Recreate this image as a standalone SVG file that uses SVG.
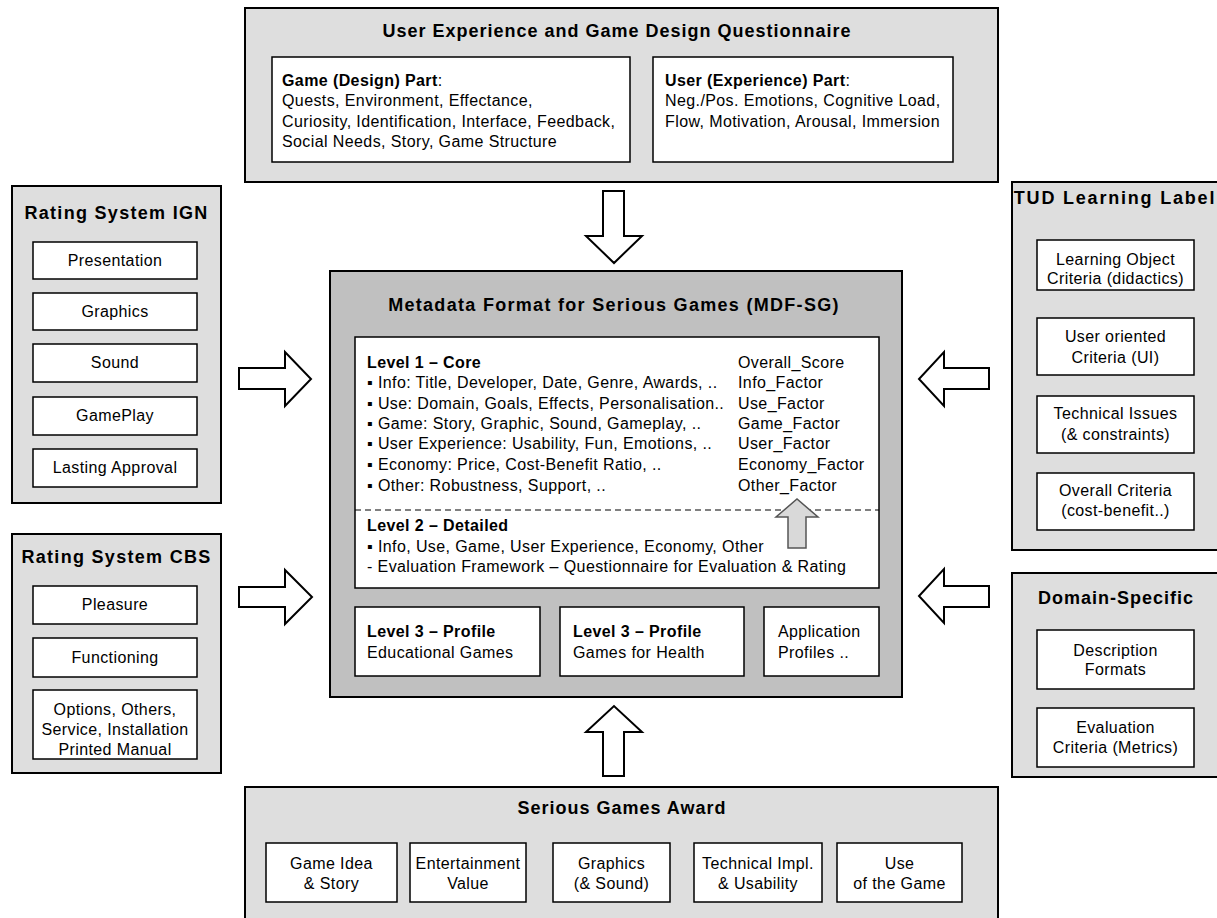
<svg xmlns="http://www.w3.org/2000/svg" width="1217" height="918" viewBox="0 0 1217 918">
<style>
.outer{fill:#dedede;stroke:#000;stroke-width:2}
.mdf{fill:#c0c0c0;stroke:#000;stroke-width:2}
.box{fill:#fff;stroke:#000;stroke-width:1.5}
text{font-family:"Liberation Sans",Arial,sans-serif;font-size:16px;letter-spacing:0.4px;fill:#000}
.ti{font-weight:bold;font-size:18px;letter-spacing:1px}
.b{font-weight:bold}
.c{text-anchor:middle}
.arrow{fill:#fff;stroke:#000;stroke-width:2;stroke-linejoin:miter}
.garrow{fill:#d9d9d9;stroke:#555;stroke-width:1.5}
.dash{stroke:#000;stroke-width:1;stroke-dasharray:6,4;fill:none}
</style>
<rect width="1217" height="918" fill="#fff"/>

<g id="questionnaire">
<rect class="outer" x="245" y="8" width="753" height="174"/>
<text class="ti c" x="617" y="37">User Experience and Game Design Questionnaire</text>
<rect class="box" x="272" y="57" width="358" height="105"/>
<text x="282" y="86"><tspan class="b">Game (Design) Part</tspan>:</text>
<text x="282" y="106">Quests, Environment, Effectance,</text>
<text x="282" y="127">Curiosity, Identification, Interface, Feedback,</text>
<text x="282" y="147">Social Needs, Story, Game Structure</text>
<rect class="box" x="653" y="57" width="300" height="105"/>
<text x="665" y="86"><tspan class="b">User (Experience) Part</tspan>:</text>
<text x="665" y="106">Neg./Pos. Emotions, Cognitive Load,</text>
<text x="665" y="127">Flow, Motivation, Arousal, Immersion</text>
</g>

<g id="ign">
<rect class="outer" x="12" y="186" width="209" height="317"/>
<text class="ti c" x="116.5" y="219" style="letter-spacing:1.3px">Rating System IGN</text>
<rect class="box" x="33" y="242" width="164" height="37"/>
<text class="c" x="115" y="266">Presentation</text>
<rect class="box" x="33" y="293" width="164" height="37"/>
<text class="c" x="115" y="317">Graphics</text>
<rect class="box" x="33" y="344" width="164" height="38"/>
<text class="c" x="115" y="368">Sound</text>
<rect class="box" x="33" y="397" width="164" height="38"/>
<text class="c" x="115" y="421">GamePlay</text>
<rect class="box" x="33" y="449" width="164" height="38"/>
<text class="c" x="115" y="473">Lasting Approval</text>
</g>

<g id="cbs">
<rect class="outer" x="12" y="534" width="209" height="239"/>
<text class="ti c" x="116.5" y="563" style="letter-spacing:1.3px">Rating System CBS</text>
<rect class="box" x="33" y="586" width="164" height="38"/>
<text class="c" x="115" y="610">Pleasure</text>
<rect class="box" x="33" y="638" width="164" height="39"/>
<text class="c" x="115" y="663">Functioning</text>
<rect class="box" x="33" y="690" width="164" height="69"/>
<text class="c" x="115" y="715">Options, Others,</text>
<text class="c" x="115" y="735">Service, Installation</text>
<text class="c" x="115" y="755">Printed Manual</text>
</g>

<g id="tud">
<rect class="outer" x="1012" y="182" width="220" height="368"/>
<text class="ti c" x="1115" y="204" style="letter-spacing:1.8px">TUD Learning Label</text>
<rect class="box" x="1037" y="240" width="157" height="50"/>
<text class="c" x="1115.5" y="265">Learning Object</text>
<text class="c" x="1115.5" y="284">Criteria (didactics)</text>
<rect class="box" x="1037" y="318" width="157" height="57"/>
<text class="c" x="1115.5" y="342">User oriented</text>
<text class="c" x="1115.5" y="363">Criteria (UI)</text>
<rect class="box" x="1037" y="396" width="157" height="57"/>
<text class="c" x="1115.5" y="419">Technical Issues</text>
<text class="c" x="1115.5" y="440">(&amp; constraints)</text>
<rect class="box" x="1037" y="473" width="157" height="57"/>
<text class="c" x="1115.5" y="496">Overall Criteria</text>
<text class="c" x="1115.5" y="516">(cost-benefit..)</text>
</g>

<g id="domain">
<rect class="outer" x="1012" y="573" width="220" height="204"/>
<text class="ti c" x="1116" y="604">Domain-Specific</text>
<rect class="box" x="1037" y="630" width="157" height="59"/>
<text class="c" x="1115.5" y="656">Description</text>
<text class="c" x="1115.5" y="675">Formats</text>
<rect class="box" x="1037" y="708" width="157" height="59"/>
<text class="c" x="1115.5" y="733">Evaluation</text>
<text class="c" x="1115.5" y="753">Criteria (Metrics)</text>
</g>

<g id="mdf">
<rect class="mdf" x="330" y="271" width="572" height="426"/>
<text class="ti c" x="614" y="311" style="letter-spacing:1.3px">Metadata Format for Serious Games (MDF-SG)</text>
<rect class="box" x="355" y="337" width="524" height="251"/>
<line class="dash" x1="355" y1="510" x2="879" y2="510"/>
<text class="b" x="367" y="368">Level 1 – Core</text>
<text x="367" y="388">▪ Info: Title, Developer, Date, Genre, Awards, ..</text>
<text x="367" y="409">▪ Use: Domain, Goals, Effects, Personalisation..</text>
<text x="367" y="429">▪ Game: Story, Graphic, Sound, Gameplay, ..</text>
<text x="367" y="449">▪ User Experience: Usability, Fun, Emotions, ..</text>
<text x="367" y="470">▪ Economy: Price, Cost-Benefit Ratio, ..</text>
<text x="367" y="491">▪ Other: Robustness, Support, ..</text>
<text x="738" y="368">Overall_Score</text>
<text x="738" y="388">Info_Factor</text>
<text x="738" y="409">Use_Factor</text>
<text x="738" y="429">Game_Factor</text>
<text x="738" y="449">User_Factor</text>
<text x="738" y="470">Economy_Factor</text>
<text x="738" y="491">Other_Factor</text>
<polygon class="garrow" points="788,548 788,517 776,517 797,499 818,517 806,517 806,548"/>
<text class="b" x="367" y="531">Level 2 – Detailed</text>
<text x="367" y="552">▪ Info, Use, Game, User Experience, Economy, Other</text>
<text x="367" y="572">- Evaluation Framework – Questionnaire for Evaluation &amp; Rating</text>
<rect class="box" x="355" y="607" width="185" height="69"/>
<text class="b" x="367" y="637">Level 3 – Profile</text>
<text x="367" y="658">Educational Games</text>
<rect class="box" x="560" y="607" width="184" height="69"/>
<text class="b" x="573" y="637">Level 3 – Profile</text>
<text x="573" y="658">Games for Health</text>
<rect class="box" x="764" y="607" width="115" height="69"/>
<text x="778" y="637">Application</text>
<text x="778" y="658">Profiles ..</text>
</g>

<g id="award">
<rect class="outer" x="245" y="787" width="753" height="140"/>
<text class="ti c" x="622" y="814">Serious Games Award</text>
<rect class="box" x="266" y="843" width="131" height="59"/>
<text class="c" x="331.5" y="869">Game Idea</text>
<text class="c" x="331.5" y="889">&amp; Story</text>
<rect class="box" x="410" y="843" width="116" height="59"/>
<text class="c" x="468" y="869">Entertainment</text>
<text class="c" x="468" y="889">Value</text>
<rect class="box" x="553" y="843" width="117" height="59"/>
<text class="c" x="611.5" y="869">Graphics</text>
<text class="c" x="611.5" y="889">(&amp; Sound)</text>
<rect class="box" x="694" y="843" width="128" height="59"/>
<text class="c" x="758" y="869">Technical Impl.</text>
<text class="c" x="758" y="889">&amp; Usability</text>
<rect class="box" x="837" y="843" width="125" height="59"/>
<text class="c" x="899.5" y="869">Use</text>
<text class="c" x="899.5" y="889">of the Game</text>
</g>

<g id="connectors">
<polygon class="arrow" points="603,191 624,191 624,236 642,236 614,263 586,236 603,236"/>
<polygon class="arrow" points="603,776 624,776 624,732 642,732 614,706 586,732 603,732"/>
<polygon class="arrow" points="239,368 285,368 285,352 311,379 285,406 285,389 239,389"/>
<polygon class="arrow" points="239,587 285,587 285,570 312,597 285,624 285,607 239,607"/>
<polygon class="arrow" points="989,368 944,368 944,352 919,379 944,406 944,389 989,389"/>
<polygon class="arrow" points="989,586 944,586 944,569 919,596 944,623 944,607 989,607"/>
</g>
</svg>
